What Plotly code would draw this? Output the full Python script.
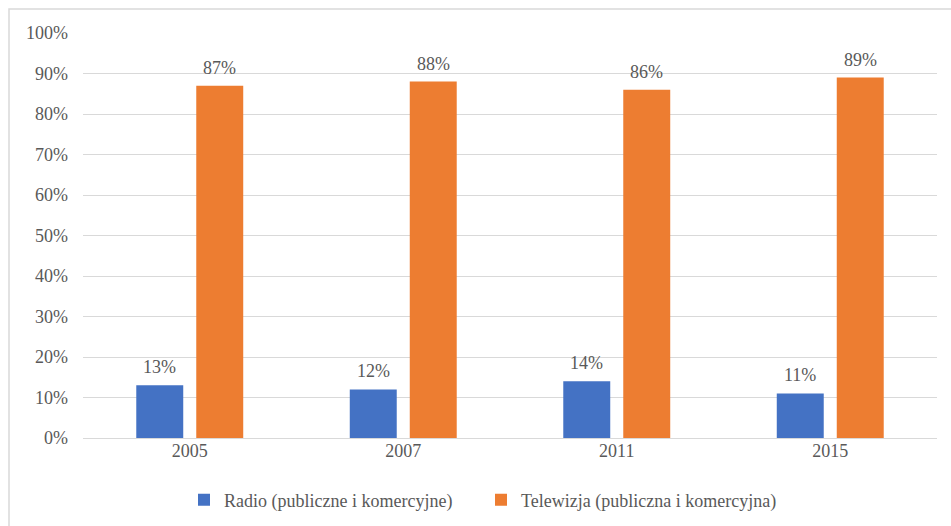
import plotly.graph_objects as go

years = ["2005", "2007", "2011", "2015"]
radio = [13, 12, 14, 11]
tv = [87, 88, 86, 89]
series_names = ["Radio (publiczne i komercyjne)", "Telewizja (publiczna i komercyjna)"]
colors = ["#4472c4", "#ed7d31"]
tick_values = [0, 10, 20, 30, 40, 50, 60, 70, 80, 90, 100]
tick_labels = [f"{v}%" for v in tick_values]

FONT = "Liberation Serif"
TEXT_COLOR = "#595959"

fig = go.Figure()
for name, vals, color in zip(series_names, [radio, tv], colors):
    fig.add_trace(go.Bar(
        x=years, y=vals, name=name,
        marker=dict(color=color, line=dict(width=0)),
        hoverinfo="x+y+name",
    ))

# value labels above each bar, offset by a few pixels
n = len(series_names)
for i, vals in enumerate([radio, tv]):
    for j, v in enumerate(vals):
        fig.add_annotation(
            x=j, y=v, xref="x", yref="y",
            text=f"{v}%", showarrow=False,
            yanchor="bottom", yshift=6,
            xshift=(i - (n - 1) / 2) * 60,
            font=dict(family=FONT, size=18, color=TEXT_COLOR),
        )

fig.update_layout(
    width=951, height=526,
    margin=dict(l=83, r=14, t=33, b=88, autoexpand=False),
    paper_bgcolor="white", plot_bgcolor="white",
    barmode="group", bargap=0.438, bargroupgap=0.217,
    font=dict(family=FONT, size=18, color=TEXT_COLOR),
    legend=dict(orientation="h", xref="container", yref="container",
                x=184 / 951, xanchor="left", y=1 - 500 / 526, yanchor="middle",
                font=dict(family=FONT, size=18, color=TEXT_COLOR),
                entrywidth=252, entrywidthmode="pixels", traceorder="normal"),
    xaxis=dict(showgrid=False, showline=False, ticks="", automargin=False,
               tickfont=dict(family=FONT, size=18, color=TEXT_COLOR)),
    yaxis=dict(range=[0, 100], tickvals=tick_values, ticktext=tick_labels,
               showgrid=True, gridcolor="#d9d9d9", gridwidth=1,
               zeroline=True, zerolinecolor="#d9d9d9", zerolinewidth=1,
               showline=False, ticks="", ticklabelstandoff=14, automargin=False,
               tickfont=dict(family=FONT, size=18, color=TEXT_COLOR)),
    shapes=[dict(type="rect", xref="paper", yref="paper",
                 x0=(9 - 83) / 854, x1=1.1, y0=-0.4, y1=(438 - 9) / 405,
                 line=dict(color="#d9d9d9", width=1.5), fillcolor="rgba(0,0,0,0)",
                 layer="below")],
)

fig.write_html("out.html")
